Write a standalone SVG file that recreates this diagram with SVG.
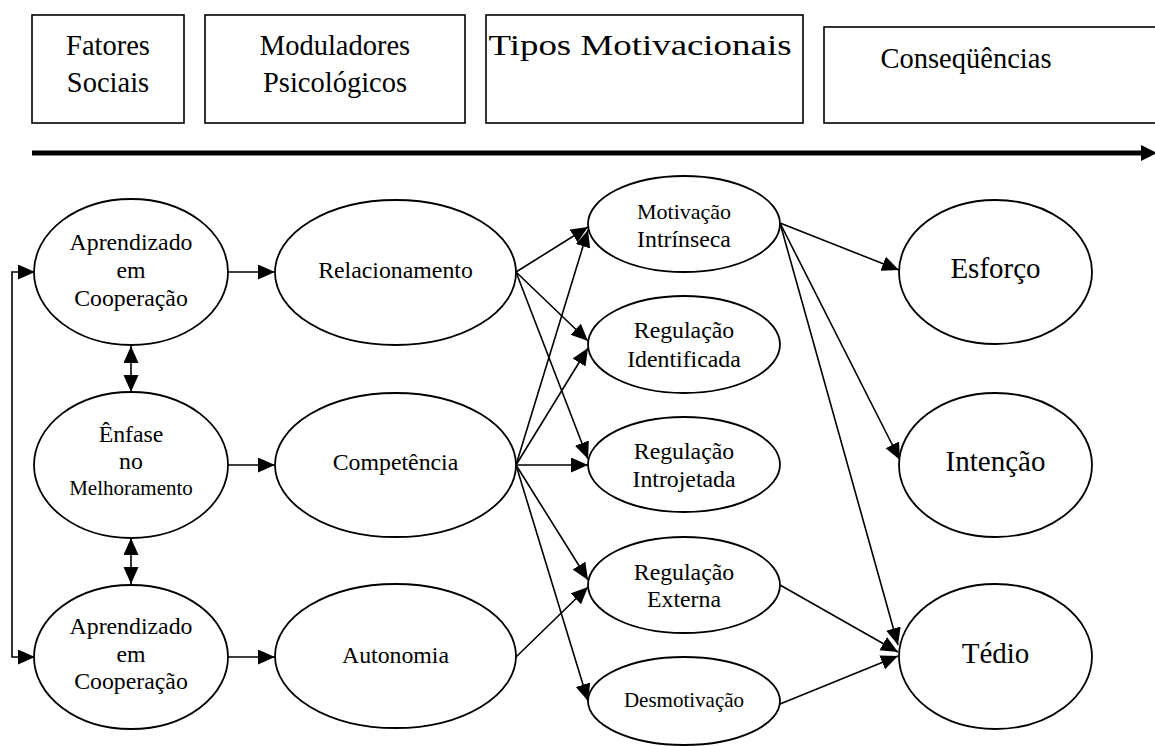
<svg xmlns="http://www.w3.org/2000/svg" width="1155" height="746" viewBox="0 0 1155 746">
<style>
.box{fill:#fff;stroke:#000;stroke-width:1.6}
.el{fill:#fff;stroke:#000;stroke-width:1.8}
.t{font-family:"Liberation Serif","Times New Roman",serif;fill:#000;text-anchor:middle}
.h{font-size:28.5px}
.n{font-size:23.8px}
.s{font-size:21px}
.b{font-size:29px}
.c{stroke:#000;stroke-width:1.6;fill:none}
</style>
<defs>
<marker id="ah" markerUnits="userSpaceOnUse" markerWidth="18" markerHeight="16" refX="17" refY="7.5" orient="auto-start-reverse">
<path d="M0,0 L17,7.5 L0,15 z" fill="#000"/>
</marker>
</defs>
<rect width="1155" height="746" fill="#fff"/>
<g id="hdr-fatores"><rect class="box" x="32" y="15" width="152" height="108"/><text class="t h" x="108" y="55">Fatores</text><text class="t h" x="108" y="92">Sociais</text></g>
<g id="hdr-moduladores"><rect class="box" x="205" y="15" width="260" height="108"/><text class="t h" x="335" y="55">Moduladores</text><text class="t h" x="335" y="92">Psicológicos</text></g>
<g id="hdr-tipos"><rect class="box" x="486" y="15" width="317" height="108"/><text class="t h" x="640" y="55" textLength="303" lengthAdjust="spacingAndGlyphs">Tipos Motivacionais</text></g>
<g id="hdr-consequencias"><rect class="box" x="824" y="27" width="345" height="96"/><text class="t h" x="966" y="68">Conseqüências</text></g>
<g id="timeline"><line x1="32" y1="153" x2="1145" y2="153" stroke="#000" stroke-width="5"/><polygon points="1141,145 1157,153 1141,161" fill="#000"/></g>

<g id="connectors">
<path class="c" d="M35,272 H12 V657 H35" marker-start="url(#ah)" marker-end="url(#ah)"/>
<line class="c" stroke-width="2.2" x1="131" y1="346" x2="131" y2="392" marker-start="url(#ah)" marker-end="url(#ah)"/>
<line class="c" stroke-width="2.2" x1="131" y1="538" x2="131" y2="584" marker-start="url(#ah)" marker-end="url(#ah)"/>
<line class="c" x1="228" y1="272" x2="275" y2="272" marker-end="url(#ah)"/>
<line class="c" x1="228" y1="465" x2="275" y2="465" marker-end="url(#ah)"/>
<line class="c" x1="228" y1="657" x2="275" y2="657" marker-end="url(#ah)"/>
<line class="c" x1="516" y1="272" x2="588" y2="227" marker-end="url(#ah)"/>
<line class="c" x1="516" y1="272" x2="588" y2="341" marker-end="url(#ah)"/>
<line class="c" x1="516" y1="272" x2="588" y2="459" marker-end="url(#ah)"/>
<line class="c" x1="516" y1="465" x2="588" y2="230" marker-end="url(#ah)"/>
<line class="c" x1="516" y1="465" x2="588" y2="348" marker-end="url(#ah)"/>
<line class="c" x1="516" y1="465" x2="588" y2="465" marker-end="url(#ah)"/>
<line class="c" x1="516" y1="465" x2="588" y2="580" marker-end="url(#ah)"/>
<line class="c" x1="516" y1="465" x2="588" y2="701" marker-end="url(#ah)"/>
<line class="c" x1="516" y1="657" x2="588" y2="587" marker-end="url(#ah)"/>
<line class="c" x1="780" y1="223" x2="899" y2="270" marker-end="url(#ah)"/>
<line class="c" x1="780" y1="223" x2="900" y2="460" marker-end="url(#ah)"/>
<line class="c" x1="780" y1="223" x2="898" y2="645" marker-end="url(#ah)"/>
<line class="c" x1="780" y1="585" x2="898" y2="652" marker-end="url(#ah)"/>
<line class="c" x1="780" y1="704" x2="898" y2="656" marker-end="url(#ah)"/>
</g>

<g id="n-aprendizado1"><ellipse class="el" cx="131" cy="272" rx="97" ry="73"/><text class="t n" x="131" y="250">Aprendizado</text><text class="t n" x="131" y="278">em</text><text class="t n" x="131" y="306">Cooperação</text></g>
<g id="n-enfase"><ellipse class="el" cx="131" cy="465" rx="97" ry="73"/><text class="t n" x="131" y="442">Ênfase</text><text class="t n" x="131" y="469">no</text><text class="t s" x="131" y="495">Melhoramento</text></g>
<g id="n-aprendizado2"><ellipse class="el" cx="131" cy="657" rx="97" ry="72"/><text class="t n" x="131" y="634">Aprendizado</text><text class="t n" x="131" y="662">em</text><text class="t n" x="131" y="689">Cooperação</text></g>

<g id="n-relacionamento"><ellipse class="el" cx="395.5" cy="272.5" rx="120.5" ry="72.5"/><text class="t n" x="395.5" y="278">Relacionamento</text></g>
<g id="n-competencia"><ellipse class="el" cx="395.5" cy="465" rx="120.5" ry="72"/><text class="t n" x="395.5" y="470">Competência</text></g>
<g id="n-autonomia"><ellipse class="el" cx="395.5" cy="656" rx="120.5" ry="72"/><text class="t n" x="395.5" y="663">Autonomia</text></g>

<g id="n-intrinseca"><ellipse class="el" cx="684" cy="224" rx="96" ry="48"/><text class="t" font-size="22" x="684" y="219">Motivação</text><text class="t n" x="684" y="247">Intrínseca</text></g>
<g id="n-identificada"><ellipse class="el" cx="684" cy="344.5" rx="96" ry="48.5"/><text class="t n" x="684" y="338">Regulação</text><text class="t n" x="684" y="367">Identificada</text></g>
<g id="n-introjetada"><ellipse class="el" cx="684" cy="464.5" rx="96" ry="47.5"/><text class="t n" x="684" y="459">Regulação</text><text class="t n" x="684" y="487">Introjetada</text></g>
<g id="n-externa"><ellipse class="el" cx="684" cy="585" rx="96" ry="48"/><text class="t n" x="684" y="580">Regulação</text><text class="t n" x="684" y="607">Externa</text></g>
<g id="n-desmotivacao"><ellipse class="el" cx="684" cy="701" rx="96" ry="44"/><text class="t s" x="684" y="707">Desmotivação</text></g>

<g id="n-esforco"><ellipse class="el" cx="995.5" cy="272" rx="96.5" ry="72"/><text class="t b" x="995.5" y="278">Esforço</text></g>
<g id="n-intencao"><ellipse class="el" cx="995.5" cy="465" rx="96.5" ry="72"/><text class="t b" x="995.5" y="471">Intenção</text></g>
<g id="n-tedio"><ellipse class="el" cx="995.5" cy="656.5" rx="96.5" ry="72.5"/><text class="t b" x="995.5" y="663">Tédio</text></g>
</svg>
